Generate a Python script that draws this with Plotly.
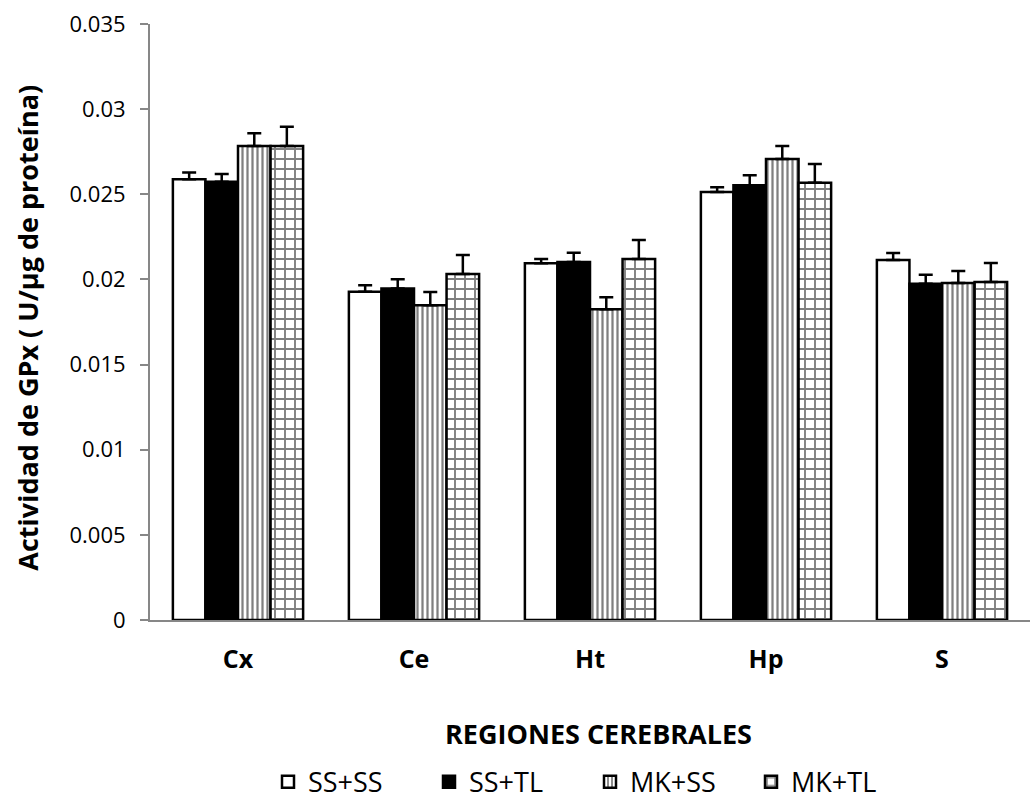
import plotly.graph_objects as go

# Brain regions and treatment groups
regions = ["Cx", "Ce", "Ht", "Hp", "S"]
groups = ["SS+SS", "SS+TL", "MK+SS", "MK+TL"]

# Mean GPx activity (U/µg protein) per group, in region order
ss_ss = [0.02588, 0.01928, 0.02095, 0.02514, 0.02114]
ss_tl = [0.02574, 0.01946, 0.02103, 0.02553, 0.01974]
mk_ss = [0.02784, 0.01848, 0.01825, 0.02707, 0.01979]
mk_tl = [0.02784, 0.02032, 0.02120, 0.02568, 0.01985]

# Standard error (upper bars only)
ss_ss_err = [0.00040, 0.00038, 0.00025, 0.00027, 0.00041]
ss_tl_err = [0.00045, 0.00055, 0.00054, 0.00059, 0.00053]
mk_ss_err = [0.00074, 0.00078, 0.00070, 0.00077, 0.00070]
mk_tl_err = [0.00113, 0.00112, 0.00112, 0.00110, 0.00112]

y_ticks = [0, 0.005, 0.01, 0.015, 0.02, 0.025, 0.03, 0.035]
y_tick_text = ["0", "0.005", "0.01", "0.015", "0.02", "0.025", "0.03", "0.035"]

values = [ss_ss, ss_tl, mk_ss, mk_tl]
errors = [ss_ss_err, ss_tl_err, mk_ss_err, mk_tl_err]
fills = [
    dict(color="white", pattern=dict(shape="")),
    dict(color="black", pattern=dict(shape="")),
    dict(color="white", pattern=dict(shape="|", fgcolor="black", bgcolor="white",
                                     size=5, solidity=0.45, fillmode="overlay")),
    dict(color="white", pattern=dict(shape="+", fgcolor="black", bgcolor="white",
                                     size=10, solidity=0.34, fillmode="overlay")),
]

FONT = "Open Sans"
fig = go.Figure()
for name, vals, errs, fill in zip(groups, values, errors, fills):
    fig.add_trace(go.Bar(
        name=name,
        x=regions,
        y=vals,
        marker=dict(color=fill["color"], pattern=fill["pattern"],
                    line=dict(color="black", width=2.5)),
        error_y=dict(type="data", array=errs, arrayminus=[0] * len(errs),
                     symmetric=False, color="black", thickness=2.5, width=7),
    ))

fig.update_layout(
    width=1032, height=799,
    margin=dict(l=150, r=2, t=24, b=179, autoexpand=False),
    paper_bgcolor="white", plot_bgcolor="white",
    barmode="group", bargap=0.26, bargroupgap=0,
    font=dict(family=FONT, color="black", size=22),
    showlegend=True,
    legend=dict(orientation="h", x=0.5, xanchor="center", y=-0.272, yanchor="middle",
                font=dict(family=FONT, size=27, color="black"),
                itemwidth=30, tracegroupgap=0, itemclick=False,
                entrywidth=116, entrywidthmode="pixels"),
    annotations=[
        dict(text="<b>REGIONES CEREBRALES</b>", xref="paper", yref="paper",
             x=0.51, y=-0.19, xanchor="center", yanchor="middle", showarrow=False,
             font=dict(family=FONT, size=27, color="black")),
        dict(text="<b>Actividad de GPx ( U/µg de proteína)</b>", xref="paper", yref="paper",
             x=-0.139, y=0.49, xanchor="center", yanchor="middle", showarrow=False,
             textangle=-90, font=dict(family=FONT, size=27, color="black")),
    ],
)

fig.update_xaxes(
    showline=True, linecolor="#878787", linewidth=2, ticks="",
    tickfont=dict(family=FONT, size=25, color="black"),
    tickvals=regions, ticktext=[f"<b>{r}</b>" for r in regions],
    ticklabelstandoff=16, showgrid=False, zeroline=False,
)
fig.update_yaxes(
    range=[0, 0.035], tickvals=y_ticks, ticktext=y_tick_text,
    showline=True, linecolor="#878787", linewidth=2,
    ticks="outside", ticklen=8, tickcolor="#878787", tickwidth=2,
    tickfont=dict(family=FONT, size=22, color="black"),
    ticklabelstandoff=10, showgrid=False, zeroline=False,
)

fig.write_html("out.html")
